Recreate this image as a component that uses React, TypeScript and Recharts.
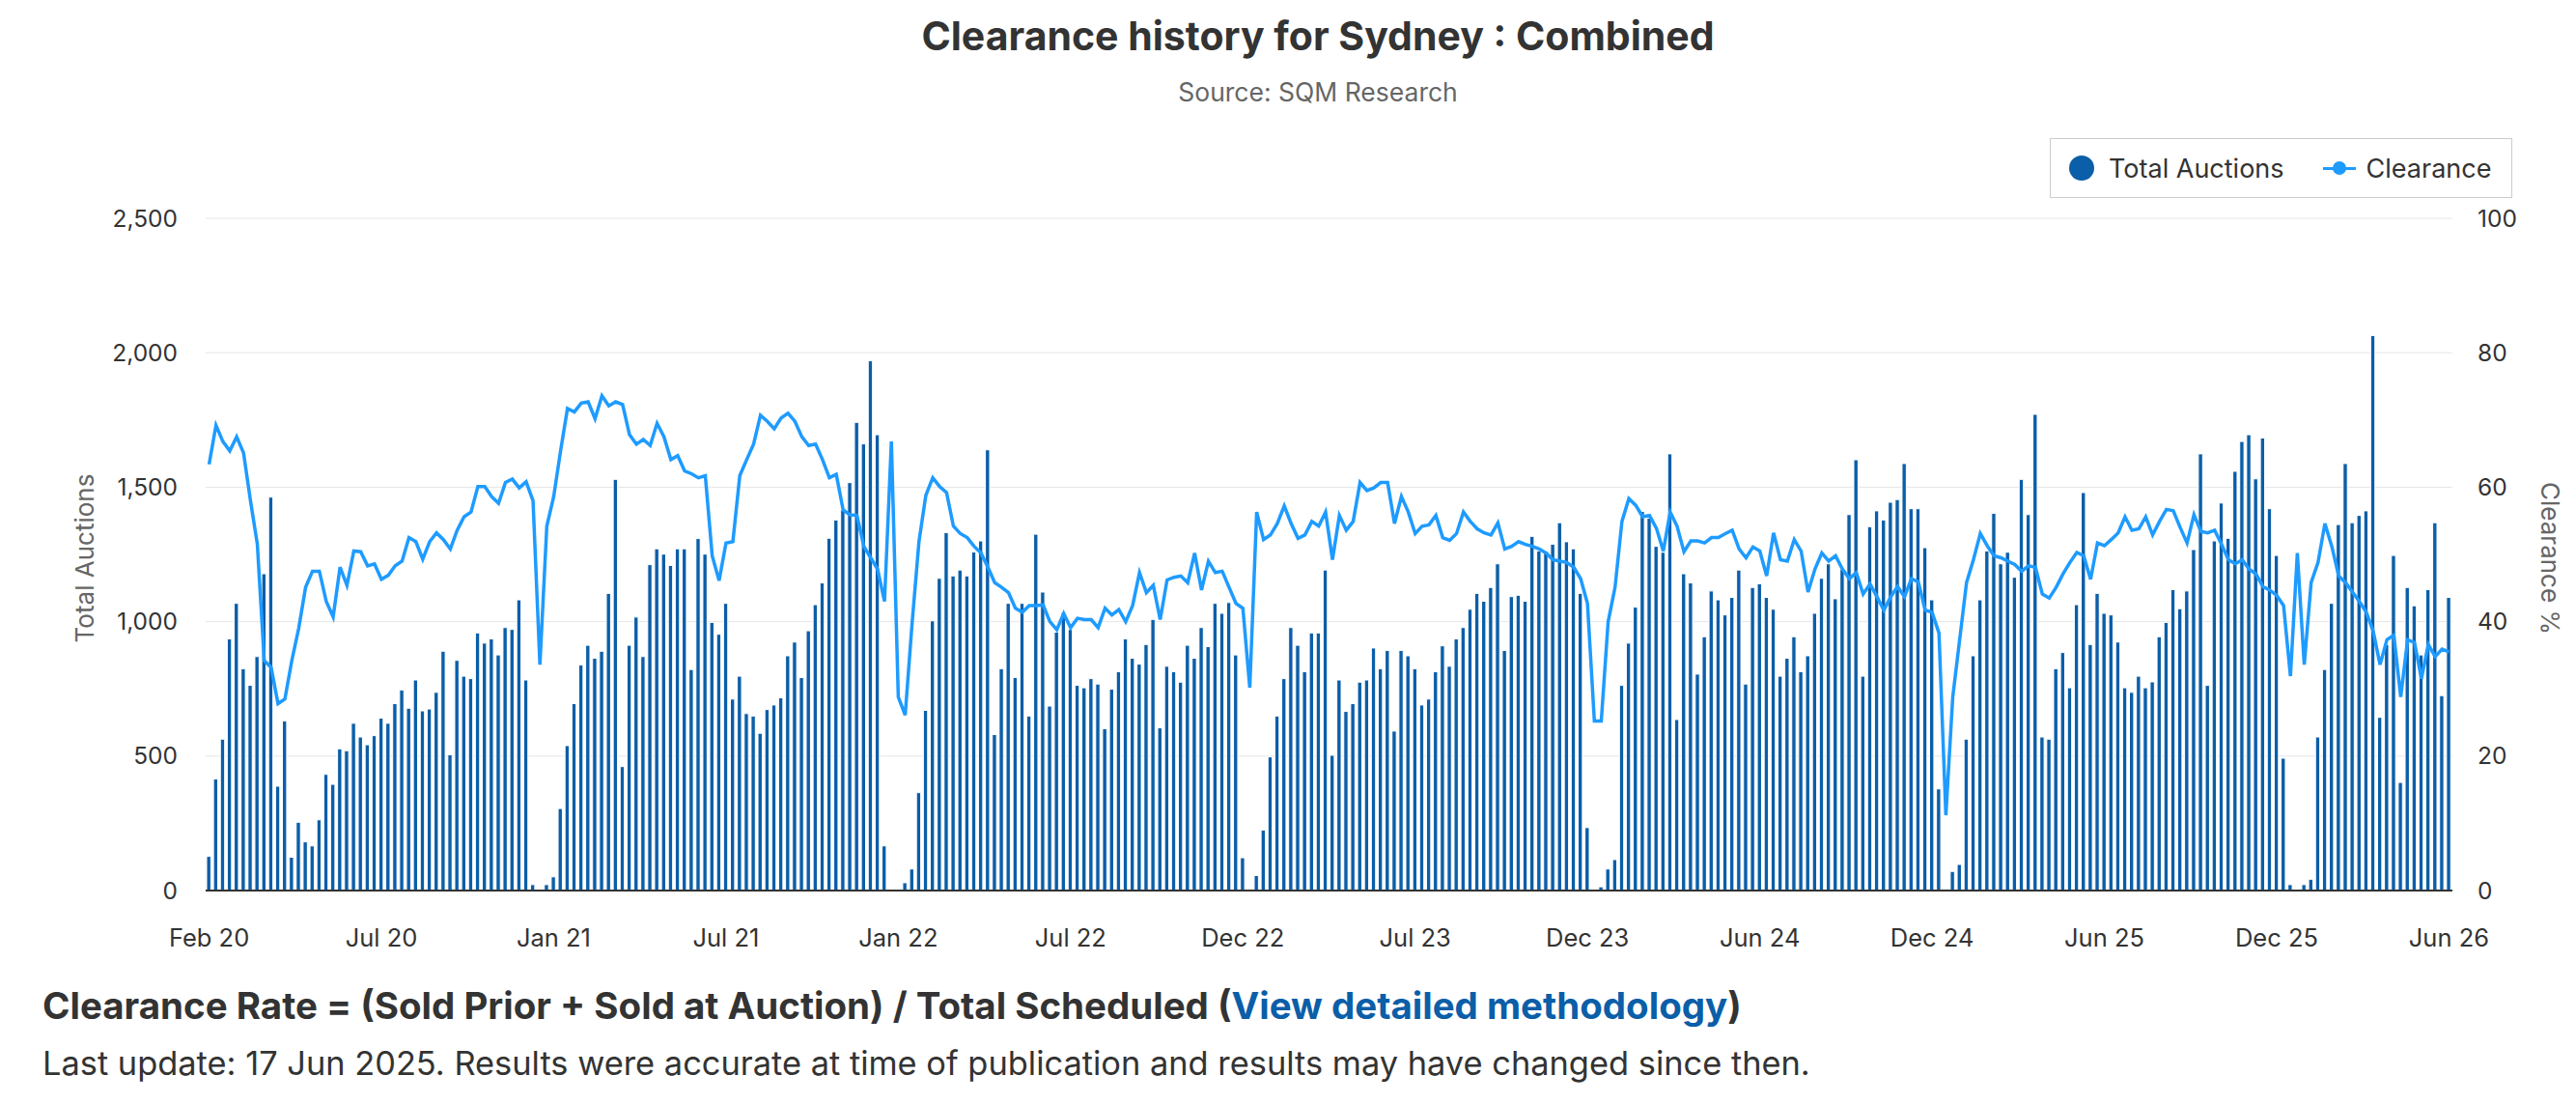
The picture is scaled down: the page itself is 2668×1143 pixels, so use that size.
import { ComposedChart, Bar, Line, XAxis, YAxis, CartesianGrid } from 'recharts'

// weekly auctions, Sydney combined
const auctions = [
  127, 415, 563, 936, 1068, 825, 763, 870, 1178, 1463, 388, 631, 124, 254, 181, 166, 263, 432, 395, 527, 520, 622, 571, 542, 576, 641, 622, 695, 746, 678, 783, 668,
  675, 737, 890, 505, 856, 797, 788, 958, 920, 936, 876, 978, 971, 1081, 783, 22, 3, 22, 51, 305, 539, 695, 839, 912, 864, 890, 1105, 1529, 461, 912, 1017, 870,
  1212, 1271, 1251, 1209, 1271, 1271, 822, 1309, 1251, 997, 953, 1068, 712, 797, 658, 649, 585, 673, 690, 717, 873, 924, 792, 966, 1063, 1144, 1310, 1378, 1415, 1517, 1741, 1661, 1970,
  1695, 166, 5, 3, 29, 80, 364, 670, 1003, 1161, 1331, 1170, 1192, 1170, 1259, 1300, 1639, 580, 825, 1068, 792, 1068, 649, 1325, 1110, 686, 961, 1034, 971, 763, 754, 788, 768,
  602, 749, 814, 936, 864, 842, 915, 1008, 605, 834, 814, 775, 912, 864, 978, 907, 1068, 1031, 1071, 876, 122, 5, 56, 225, 497, 649, 788, 978, 912, 814, 958, 958, 1192,
  503, 783, 666, 695, 775, 783, 902, 825, 893, 593, 893, 873, 825, 690, 712, 814, 910, 834, 936, 978, 1046, 1105, 1076, 1127, 1215, 893, 1093, 1098, 1076, 1317, 1263, 1263, 1288,
  1368, 1297, 1271, 1105, 234, 3, 14, 80, 115, 763, 920, 1054, 1410, 1385, 1280, 1258, 1624, 636, 1178, 1144, 805, 944, 1114, 1081, 1025, 1090, 1192, 768, 1127, 1141, 1090, 1046, 797,
  864, 944, 814, 873, 1031, 1161, 1215, 1085, 1195, 1398, 1602, 797, 1353, 1412, 1378, 1444, 1454, 1588, 1420, 1420, 1275, 1081, 378, 5, 71, 97, 563, 873, 1081, 1263, 1403, 1215, 1258, 1165,
  1529, 1398, 1771, 571, 563, 825, 885, 754, 1063, 1480, 915, 1105, 1031, 1025, 924, 754, 737, 797, 754, 776, 944, 997, 1119, 1048, 1114, 1268, 1624, 763, 1300, 1441, 1310, 1559, 1670,
  1695, 1531, 1683, 1420, 1246, 492, 22, 3, 22, 42, 571, 822, 1068, 1361, 1588, 1368, 1395, 1412, 2064, 644, 915, 1246, 402, 1127, 1059, 876, 1119, 1368, 725, 1090,
]

// clearance rate %
const clearance = [
  63.4, 69.2, 66.8, 65.4, 67.5, 65.1, 58, 51.5, 34.2, 33.2, 27.8, 28.5, 34.2, 39, 45.1, 47.5, 47.5, 43, 40.7, 48.1, 45.4, 50.5, 50.4, 48.3, 48.6, 46.3, 46.9, 48.3, 49, 52.5, 51.9, 49.3,
  51.9, 53.2, 52.2, 50.8, 53.6, 55.6, 56.3, 60.1, 60.1, 58.6, 57.6, 60.7, 61.2, 59.9, 60.8, 58, 33.6, 54.2, 58.6, 65.4, 71.7, 71.2, 72.5, 72.7, 70.2, 73.6, 72.1, 72.7, 72.3, 67.8, 66.4, 67.1,
  66.2, 69.5, 67.5, 64.1, 64.7, 62.4, 62, 61.4, 61.7, 49.8, 46.1, 51.7, 51.9, 61.7, 64.1, 66.4, 70.7, 69.8, 68.7, 70.3, 71, 69.8, 67.5, 66.2, 66.4, 64.1, 61.4, 61.9, 56.6, 55.9, 55.8, 51.2, 49.5,
  47.8, 43, 66.8, 28.8, 26.1, 39.7, 51.9, 58.8, 61.4, 60.1, 59.2, 54.2, 53.1, 52.5, 51.2, 50.2, 48.1, 45.8, 45.1, 44.3, 42, 41.4, 42.4, 42.4, 42.5, 40, 38.8, 41.2, 39.1, 40.5, 40.3, 40.3, 39.1,
  42, 41, 41.8, 40, 42.4, 47.3, 44.3, 45.4, 40.3, 46.2, 46.6, 46.8, 45.8, 50.2, 44.7, 49, 47.3, 47.5, 45.1, 42.7, 42, 30.2, 56.3, 52.2, 52.9, 54.6, 57.2, 54.6, 52.4, 52.9, 54.9, 54.2, 56.3,
  49.2, 55.8, 53.6, 54.9, 60.7, 59.5, 59.9, 60.7, 60.7, 54.6, 58.6, 56.3, 53.1, 54.2, 54.4, 55.8, 52.5, 52.1, 53.1, 56.3, 54.9, 53.8, 53.2, 52.9, 54.7, 50.8, 51.2, 51.9, 51.5, 51.2, 50.8, 50.2, 49.2,
  49, 48.8, 48.1, 46.4, 42.7, 25.2, 25.2, 40, 45.1, 54.9, 58.3, 57.3, 55.6, 55.8, 53.9, 50.5, 56.3, 54.2, 50.4, 52, 52, 51.7, 52.5, 52.5, 53.1, 53.6, 50.8, 49.5, 51.1, 50.5, 46.8, 53.2, 49.2,
  49, 52.2, 50.5, 44.4, 47.8, 50.2, 49, 49.8, 47.8, 46.4, 47.3, 44.1, 45.6, 43.7, 41.7, 43.7, 45.2, 43.7, 46.4, 45.9, 41.7, 41.4, 38.3, 11.2, 28.8, 37.3, 45.8, 49.2, 53.1, 51.3, 49.8, 49.5, 49, 48.5,
  47.5, 48.3, 48.1, 44.1, 43.5, 45.1, 47.1, 48.8, 50.3, 49.8, 46.3, 51.7, 51.3, 52.2, 53.2, 55.6, 53.6, 53.8, 55.6, 52.9, 54.9, 56.7, 56.5, 54, 51.7, 55.9, 53.4, 53.2, 53.6, 51.5, 49.2, 48.6, 49.2,
  47.8, 47.1, 45.2, 44.7, 43.9, 42.4, 31.9, 50.2, 33.6, 45.8, 48.8, 54.6, 51.2, 46.8, 45.8, 44.4, 43, 41.4, 38.6, 33.6, 37.3, 38, 28.8, 37.3, 36.9, 31.5, 36.6, 34.8, 35.9, 35.5,
]

// one label every 25 weeks
const tickLabels = ['Feb 20', 'Jul 20', 'Jan 21', 'Jul 21', 'Jan 22', 'Jul 22', 'Dec 22', 'Jul 23', 'Dec 23', 'Jun 24', 'Dec 24', 'Jun 25', 'Dec 25', 'Jun 26']
const TICK_STEP = 25

const auctionTicks = [0, 500, 1000, 1500, 2000, 2500]
const clearanceTicks = [0, 20, 40, 60, 80, 100]

const data = auctions.map((v, i) => ({ week: i, auctions: v, clearance: clearance[i] }))

const FONT = 'Inter, "Noto Sans", sans-serif'
const BAR_COLOR = '#0b5ea8'
const LINE_COLOR = '#1e9bff'

export default function App() {
  return (
    <div style={{ position: 'relative', width: 2668, height: 1143, fontFamily: FONT, background: '#fff', overflow: 'hidden' }}>
      <style>{'body{margin:0}'}</style>

      {/* Title (centred a bit right of the page centre, like the source) */}
      <div style={{ position: 'absolute', left: 62, top: 14, width: 2606, textAlign: 'center', fontSize: 41, lineHeight: '46px', fontWeight: 700, color: '#333' }}>
        Clearance history for Sydney : Combined
      </div>
      <div style={{ position: 'absolute', left: 62, top: 80, width: 2606, textAlign: 'center', fontSize: 26.5, lineHeight: '30px', color: '#666' }}>
        Source: SQM Research
      </div>

      <ComposedChart
        width={2668}
        height={1143}
        data={data}
        margin={{ top: 226, right: 0, bottom: 0, left: 0 }}
        style={{ position: 'absolute', left: 0, top: 0 }}
      >
        <CartesianGrid vertical={false} stroke="#e6e6e6" yAxisId="left" />
        <XAxis
          dataKey="week"
          height={221}
          ticks={tickLabels.map((_, i) => i * TICK_STEP)}
          interval={0}
          tickFormatter={(v) => tickLabels[v / TICK_STEP]}
          tickLine={false}
          tickSize={0}
          tickMargin={40}
          axisLine={{ stroke: '#333', strokeWidth: 2 }}
          tick={{ fill: '#333', fontSize: 25.5, fontFamily: FONT }}
        />
        <YAxis
          yAxisId="left"
          width={213}
          domain={[0, 2500]}
          ticks={auctionTicks}
          tickFormatter={(v) => v.toLocaleString('en-US')}
          axisLine={false}
          tickLine={false}
          tickSize={0}
          tickMargin={29}
          tick={{ fill: '#333', fontSize: 24.5, fontFamily: FONT }}
        />
        <YAxis
          yAxisId="right"
          orientation="right"
          width={128}
          domain={[0, 100]}
          ticks={clearanceTicks}
          axisLine={false}
          tickLine={false}
          tickSize={0}
          tickMargin={26}
          tick={{ fill: '#333', fontSize: 24.5, fontFamily: FONT }}
        />
        <Bar yAxisId="left" dataKey="auctions" fill={BAR_COLOR} stroke="#ffffff" strokeWidth={1} barSize={4.4} isAnimationActive={false} />
        <Line yAxisId="right" type="linear" dataKey="clearance" stroke={LINE_COLOR} strokeWidth={3.5} dot={false} isAnimationActive={false} />
      </ComposedChart>

      {/* Axis titles */}
      <div style={{ position: 'absolute', left: 88 - 150, top: 578 - 16, width: 300, height: 32, lineHeight: '32px', textAlign: 'center', fontSize: 26, color: '#666', transform: 'rotate(-90deg)' }}>
        Total Auctions
      </div>
      <div style={{ position: 'absolute', left: 2641 - 150, top: 578 - 16, width: 300, height: 32, lineHeight: '32px', textAlign: 'center', fontSize: 26, color: '#666', transform: 'rotate(90deg)' }}>
        Clearance %
      </div>

      {/* Legend */}
      <div style={{ position: 'absolute', left: 2123, top: 143, width: 479, height: 62, boxSizing: 'border-box', border: '1px solid #ccc', background: '#fff', display: 'flex', alignItems: 'center', fontSize: 27, color: '#333' }}>
        <span style={{ display: 'inline-block', width: 26, height: 26, borderRadius: 13, background: BAR_COLOR, marginLeft: 19, marginRight: 15 }} />
        <span>Total Auctions</span>
        <span style={{ position: 'relative', display: 'inline-block', width: 34, height: 14, marginLeft: 40, marginRight: 11 }}>
          <span style={{ position: 'absolute', left: 0, top: 6, width: 34, height: 3, background: LINE_COLOR }} />
          <span style={{ position: 'absolute', left: 10, top: 0, width: 14, height: 14, borderRadius: 7, background: LINE_COLOR }} />
        </span>
        <span>Clearance</span>
      </div>

      {/* Footer */}
      <div style={{ position: 'absolute', left: 44, top: 1018, fontSize: 38.5, lineHeight: '46px', fontWeight: 700, color: '#333', whiteSpace: 'nowrap' }}>
        Clearance Rate = (Sold Prior + Sold at Auction) / Total Scheduled (<span style={{ color: '#0b5ea8' }}>View detailed methodology</span>)
      </div>
      <div style={{ position: 'absolute', left: 44, top: 1081, fontSize: 34.4, lineHeight: '40px', color: '#333', whiteSpace: 'nowrap' }}>
        Last update: 17 Jun 2025. Results were accurate at time of publication and results may have changed since then.
      </div>
    </div>
  )
}
